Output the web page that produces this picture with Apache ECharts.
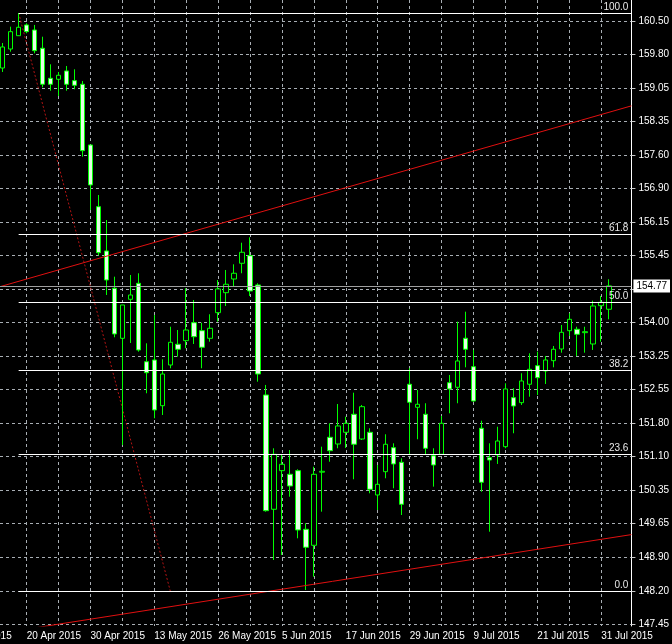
<!DOCTYPE html>
<html><head><meta charset="utf-8">
<script src="https://cdn.jsdelivr.net/npm/echarts@6/dist/echarts.min.js"></script>
<style>html,body{margin:0;padding:0;background:#000}#c{width:672px;height:644px}</style>
</head><body><div id="c"></div>
<script>
// Daily bars, 15 Apr 2015 .. 3 Aug 2015 (bar index 0..76)
const barDates = ['15 Apr 2015','16 Apr 2015','17 Apr 2015','20 Apr 2015','21 Apr 2015','22 Apr 2015','23 Apr 2015','24 Apr 2015','27 Apr 2015','28 Apr 2015','29 Apr 2015','30 Apr 2015',
'4 May 2015','5 May 2015','6 May 2015','7 May 2015','8 May 2015','11 May 2015','12 May 2015','13 May 2015','14 May 2015','15 May 2015','18 May 2015','19 May 2015','20 May 2015','21 May 2015','22 May 2015','26 May 2015','27 May 2015','28 May 2015','29 May 2015',
'1 Jun 2015','2 Jun 2015','3 Jun 2015','4 Jun 2015','5 Jun 2015','8 Jun 2015','9 Jun 2015','10 Jun 2015','11 Jun 2015','12 Jun 2015','15 Jun 2015','16 Jun 2015','17 Jun 2015','18 Jun 2015','19 Jun 2015','22 Jun 2015','23 Jun 2015','24 Jun 2015','25 Jun 2015','26 Jun 2015','29 Jun 2015','30 Jun 2015',
'1 Jul 2015','2 Jul 2015','3 Jul 2015','6 Jul 2015','7 Jul 2015','8 Jul 2015','9 Jul 2015','10 Jul 2015','13 Jul 2015','14 Jul 2015','15 Jul 2015','16 Jul 2015','17 Jul 2015','20 Jul 2015','21 Jul 2015','22 Jul 2015','23 Jul 2015','24 Jul 2015','27 Jul 2015','28 Jul 2015','29 Jul 2015','30 Jul 2015','31 Jul 2015','3 Aug 2015'];

const opens = [159.483,159.894,160.182,160.414,160.305,159.910,159.261,159.239,159.419,159.209,159.131,157.818,
156.483,155.525,154.718,153.636,154.480,154.826,153.130,153.167,152.178,153.059,153.507,153.585,153.974,153.801,153.636,154.190,154.623,154.919,155.259,
155.423,154.790,152.410,149.938,150.773,150.695,150.773,149.505,149.159,150.740,151.495,151.350,151.603,151.993,151.458,151.603,150.247,150.751,151.270,150.954,152.642,152.144,
151.993,151.097,151.127,152.676,152.577,153.637,153.022,151.690,151.054,151.112,151.292,152.352,152.244,152.642,153.044,152.929,153.152,153.405,153.801,153.831,153.758,153.513,154.342,154.264];
const closes = [159.938,160.269,160.364,160.269,159.858,159.131,159.131,159.326,159.131,159.109,157.695,156.953,
155.488,154.898,153.730,154.357,154.573,153.383,152.892,152.086,152.864,153.550,153.399,153.816,153.671,153.442,153.853,154.703,154.805,155.043,155.497,
154.660,152.864,149.907,151.127,150.911,150.442,149.490,149.116,150.695,150.760,151.205,151.740,151.798,151.344,152.157,150.370,150.478,151.344,150.918,150.046,152.252,152.209,
151.257,150.896,151.798,152.540,153.146,153.399,152.280,150.522,151.004,151.415,152.540,152.172,152.713,152.966,152.784,153.167,153.399,153.766,154.047,153.723,153.779,154.335,154.415,154.770];
const lows = [159.397,159.836,160.176,160.234,159.801,159.066,158.992,158.878,158.992,159.023,157.565,156.412,
155.428,154.573,153.658,151.329,153.535,153.347,152.447,151.906,151.977,152.988,153.239,153.420,153.513,152.988,153.563,153.996,154.335,154.753,155.043,
154.552,152.698,149.886,148.841,148.949,150.210,149.310,148.192,148.480,149.886,150.967,151.257,151.264,150.587,151.437,150.284,149.922,150.608,150.392,149.814,151.112,151.452,
151.112,150.427,151.112,152.014,152.231,153.009,152.265,150.318,149.453,150.918,151.257,151.582,152.194,152.373,152.410,152.648,153.009,153.325,153.686,153.254,153.325,153.384,153.563,154.047];
const highs = [160.024,160.377,160.673,160.450,160.414,160.160,159.563,159.397,159.527,159.455,159.202,157.818,
156.736,156.195,154.969,154.357,155.006,155.042,153.528,154.141,153.182,153.887,153.816,154.718,154.465,153.974,154.156,154.897,155.114,155.237,155.704,
155.821,154.826,152.627,151.257,151.112,151.220,150.803,149.635,150.859,151.292,151.798,152.215,151.941,152.460,152.194,151.690,150.896,151.560,151.365,151.041,152.988,152.518,
152.231,151.257,151.956,152.843,153.996,154.212,153.384,151.854,151.365,151.724,152.663,152.555,152.880,153.312,153.347,153.254,153.470,153.924,154.177,153.887,153.887,154.450,154.552,154.913];

// Price scale ticks (right axis)
const yTickValues = [147.45,148.175,148.9,149.625,150.35,151.075,151.8,152.525,153.25,153.975,154.7,155.425,156.15,156.875,157.6,158.325,159.05,159.775,160.5];
const yTickLabels = ['147.45','148.20','148.90','149.65','150.35','151.10','151.80','152.55','153.25','154.00','154.70','155.45','156.15','156.90','157.60','158.35','159.05','159.80','160.50'];

// Time scale labels (bar index positions) and grid positions
const xTickBars = [-5,3,11,19,27,35,43,51,59,67,75];
const xTickLabels = ['8 Apr 2015','20 Apr 2015','30 Apr 2015','13 May 2015','26 May 2015','5 Jun 2015','17 Jun 2015','29 Jun 2015','9 Jul 2015','21 Jul 2015','31 Jul 2015'];
const xGridBars = [-1,3,7,11,15,19,23,27,31,35,39,43,47,51,55,59,63,67,71,75];

// Fibonacci retracement
const fibLabels = ['0.0','23.6','38.2','50.0','61.8','100.0'];
const fibPrices = [148.170,151.121,152.946,154.422,155.897,160.673];
const fibStartBar = 2;
const fibDiagonal = [[2,160.673],[21,148.170]];

// Trend lines (points read at chart edges)
const upperTrend = [[-0.34,154.753],[78.79,158.664]];
const lowerTrend = [[-0.34,147.255],[78.79,149.390]];

const lastPrice = 154.77;

const xMin = -0.3375, xMax = 78.79;
const yMin = 147.413, yMax = 160.954;
const FONT = 'Liberation Sans';

const chart = echarts.init(document.getElementById('c'));
chart.setOption({
  backgroundColor: '#000',
  animation: false,
  grid: { left: 0, right: 39, top: 0, bottom: 18 },
  xAxis: {
    type: 'value', min: xMin, max: xMax,
    axisLine: { show: false, onZero: false },
    axisTick: { show: false, customValues: xGridBars },
    splitLine: { show: true, lineStyle: { color: '#a8aeb4', width: 1, type: [3, 3] } },
    axisLabel: {
      customValues: xTickBars,
      formatter: v => { const j = xTickBars.indexOf(Math.round(v)); return j >= 0 ? xTickLabels[j] : ''; },
      color: '#fff', fontSize: 10, fontFamily: FONT, align: 'left', margin: 5
    }
  },
  yAxis: {
    type: 'value', position: 'right', min: yMin, max: yMax, scale: true,
    axisLine: { show: true, onZero: false, lineStyle: { color: '#fff', width: 1 } },
    axisTick: { show: true, customValues: yTickValues, length: 4, lineStyle: { color: '#c8c8c8' } },
    splitLine: { show: true, lineStyle: { color: '#a8aeb4', width: 1, type: [3, 3] } },
    axisLabel: {
      customValues: yTickValues,
      formatter: v => { const j = yTickValues.findIndex(t => Math.abs(t - v) < 1e-6); return j >= 0 ? yTickLabels[j] : ''; },
      color: '#fff', fontSize: 10, fontFamily: FONT, margin: 7
    }
  },
  series: [
    {
      type: 'candlestick',
      data: opens.map((o, i) => [i, o, closes[i], lows[i], highs[i]]),
      encode: { x: 0, y: [1, 2, 3, 4] },
      barWidth: 5,
      itemStyle: { color: '#000', color0: '#e4ffe4', borderColor: '#00ff00', borderColor0: '#00ff00', borderColorDoji: '#00ff00', borderWidth: 1 },
      z: 3
    },
    {
      type: 'line', data: upperTrend, symbol: 'none', clip: true,
      lineStyle: { color: '#e01010', width: 1 }, z: 4, silent: true
    },
    {
      type: 'line', data: lowerTrend, symbol: 'none', clip: true,
      lineStyle: { color: '#e01010', width: 1 }, z: 4, silent: true
    },
    {
      type: 'line', data: fibDiagonal, symbol: 'none', clip: true,
      lineStyle: { color: '#b41414', width: 1, type: [2, 2] }, z: 2, silent: true,
      markLine: {
        silent: true, symbol: ['none', 'none'], animation: false,
        lineStyle: { color: '#ffffff', width: 1, type: 'solid' },
        label: { show: true, position: 'insideEndTop', color: '#e8e8e8', fontSize: 10, fontFamily: FONT, distance: [3, 1] },
        data: fibPrices.map((p, j) => [
          { coord: [fibStartBar, p], label: { formatter: fibLabels[j] } },
          { coord: [xMax, p] }
        ])
      }
    },
    {
      type: 'line', data: [], symbol: 'none', z: 5,
      markLine: {
        silent: true, symbol: ['none', 'none'], animation: false,
        lineStyle: { color: '#a0a0a0', width: 1, type: 'solid' },
        label: { show: true, position: 'end', distance: 2, formatter: lastPrice.toFixed(2), color: '#000', backgroundColor: '#fff', fontSize: 10, fontFamily: FONT, padding: [2, 3, 1, 3] },
        data: [{ yAxis: lastPrice }]
      }
    }
  ]
});

// First time-scale label lies left of the visible plot (partly cut off), place it via the axis scale
const lx = chart.convertToPixel({ xAxisIndex: 0 }, xTickBars[0]);
const ly = chart.convertToPixel({ yAxisIndex: 0 }, yMin);
chart.setOption({
  graphic: [{
    type: 'text', x: lx, y: ly + 5, silent: true,
    style: { text: xTickLabels[0], fill: '#fff', font: '10px ' + FONT, textAlign: 'left', textVerticalAlign: 'top' }
  }]
});
</script></body></html>
